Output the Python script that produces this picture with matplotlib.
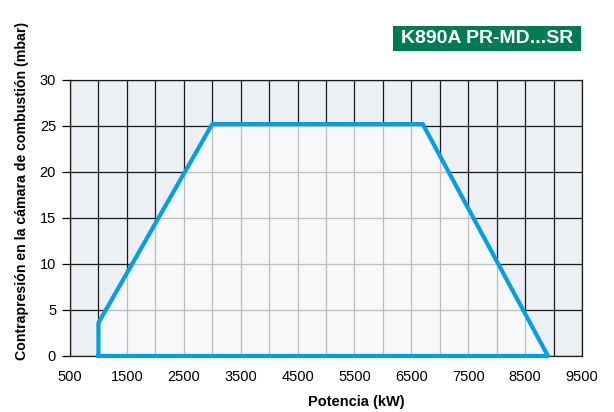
import matplotlib
matplotlib.use("Agg")
import matplotlib.pyplot as plt
from matplotlib.patches import Polygon, Rectangle

# working field of the burner (kW, mbar)
potencia = [1000, 1000, 3000, 6700, 8900]
contrapresion = [0, 3.6, 25.2, 25.2, 0]

x_ticks = [500, 1500, 2500, 3500, 4500, 5500, 6500, 7500, 8500, 9500]
y_ticks = [0, 5, 10, 15, 20, 25, 30]

plt.rcParams['font.family'] = ['Liberation Sans', 'DejaVu Sans']

fig = plt.figure(figsize=(6.14, 4.12), dpi=100)
ax = fig.add_axes([0.114, 0.136, 0.834, 0.670])
ax.set_xlim(500, 9500)
ax.set_ylim(0, 30)
ax.set_facecolor('#eceff3')

# dark grid everywhere
for xv in range(500, 9501, 500):
    ax.axvline(xv, color='#1a1a1a', lw=0.9, zorder=1)
for yv in y_ticks:
    ax.axhline(yv, color='#1a1a1a', lw=0.9, zorder=1)

# light area inside the working field, with light grey grid on it
poly = Polygon(list(zip(potencia, contrapresion)), closed=True,
               facecolor='#f7f8f9', edgecolor='none', zorder=2)
ax.add_patch(poly)
for xv in range(500, 9501, 500):
    ln = ax.axvline(xv, color='#bdbdbd', lw=0.9, zorder=3)
    ln.set_clip_path(poly)
for yv in y_ticks:
    ln = ax.axhline(yv, color='#bdbdbd', lw=0.9, zorder=3)
    ln.set_clip_path(poly)

ax.plot(potencia + [potencia[0]], contrapresion + [contrapresion[0]],
        color='#009fe3', lw=3.0, solid_joinstyle='round', zorder=4, clip_on=False)

ax.set_xticks(x_ticks)
ax.set_yticks(y_ticks)
ax.tick_params(axis='x', length=0, pad=10, labelsize=10.5)
ax.tick_params(axis='y', length=6, width=0.9, pad=4, labelsize=10.5)
for s in ax.spines.values():
    s.set_color('#1a1a1a')
    s.set_linewidth(0.9)

ax.set_xlabel('Potencia (kW)', fontsize=10.5, fontweight='bold')
ax.xaxis.set_label_coords(0.56, -0.142)
ax.set_ylabel('Contrapresión en la cámara de combustión (mbar)', fontsize=10.2,
              fontweight='bold')
ax.yaxis.set_label_coords(-0.081, 0.598)

# model badge
fig.add_artist(Rectangle((0.640, 0.876), 0.306, 0.061, transform=fig.transFigure,
                         facecolor='#007a52', edgecolor='none'))
fig.text(0.793, 0.907, 'K890A PR-MD...SR', color='white', fontsize=14,
         fontweight='bold', ha='center', va='center')

fig.savefig('out.png', dpi=100)
